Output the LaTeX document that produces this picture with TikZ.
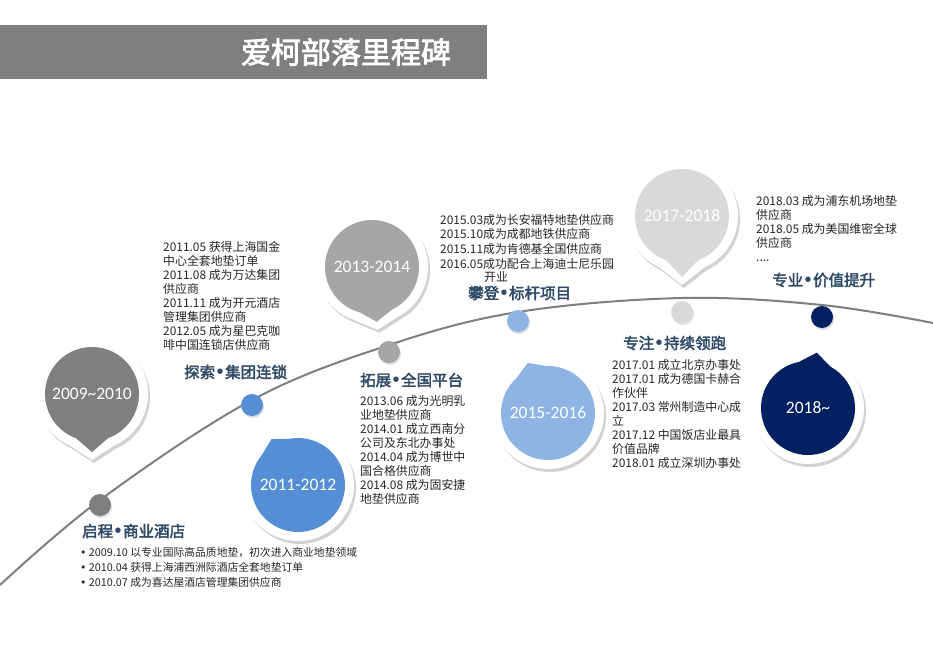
\documentclass[tikz,border=0pt]{standalone}
\usepackage{fontspec}
\setmainfont{Noto Sans CJK SC}
\newfontfamily\cjkb[AutoFakeBold=2.5]{Noto Sans CJK SC}
\newfontfamily\yearf{Carlito}
\newfontfamily\bulf{DejaVu Sans}
\usetikzlibrary{shadows,calc}
\definecolor{cA}{HTML}{7F7F7F}
\definecolor{cB}{HTML}{558ED5}
\definecolor{cC}{HTML}{A6A6A6}
\definecolor{cD}{HTML}{8EB4E3}
\definecolor{cE}{HTML}{D9D9D9}
\definecolor{cF}{HTML}{002060}
\definecolor{head}{HTML}{2E4A66}
\definecolor{body}{HTML}{262626}
\newcommand{\hb}{{\bulf\textbullet}}
\tikzset{
  heading/.style={font=\cjkb\bfseries\fontsize{15.5}{18}\selectfont,text=head,inner sep=0pt,anchor=west},
  bodytxt/.style={font=\fontsize{11.9}{14}\selectfont,text=body,inner sep=0pt,anchor=north west,align=left},
  dot/.style={circle,minimum size=22pt,inner sep=0pt,fill=#1,drop shadow={opacity=0.25,shadow xshift=1pt,shadow yshift=-2pt}},
}
\newcommand{\mybubble}[6]{%
  \coordinate (#6) at (#1);
  \fill[white,drop shadow={opacity=0.35,shadow xshift=2pt,shadow yshift=-3pt}] ($(#6)+(#3-24:56)$) -- ($(#6)+(#3:#4)$) -- ($(#6)+(#3+24:56)$) arc[start angle=#3+24,end angle=#3+336,radius=56] -- cycle;
  \fill[#2] ($(#6)+(#3-20:47)$) -- ($(#6)+(#3:#4-8)$) -- ($(#6)+(#3+20:47)$) arc[start angle=#3+20,end angle=#3+340,radius=47] -- cycle;
  \node[font=\yearf\fontsize{17.5}{20}\selectfont,text=white] at (#6) {#5};
}
\begin{document}
\begin{tikzpicture}[x=1pt,y=-1pt]
\useasboundingbox (0,0) rectangle (933,654);
\fill[white] (0,0) rectangle (933,654);
\fill[cA] (0,25) rectangle (487,79);
\node[font=\cjkb\bfseries\fontsize{30}{34}\selectfont,text=white] (title) at (346,52) {爱柯部落里程碑};
% curve
\draw[cA,line width=2pt] plot[smooth,tension=0.6] coordinates {(0,585) (100,500) (252,400) (389,345) (518,312) (682,298) (822,305) (933,323)};
% dots
\node[dot=cA] (d1) at (100,505) {};
\node[dot=cB] (d2) at (252,405) {};
\node[dot=cC] (d3) at (389,352) {};
\node[dot=cD] (d4) at (518,321) {};
\node[dot=cE] (d5) at (682,312) {};
\node[dot=cF] (d6) at (822,317) {};
% bubbles
\mybubble{92,394}{cA}{90}{66}{2009\textasciitilde 2010}{b1}
\mybubble{298,485}{cB}{-120}{61}{2011-2012}{b2}
\mybubble{372,267}{cC}{85}{63}{2013-2014}{b3}
\mybubble{548,413}{cD}{-112}{62}{2015-2016}{b4}
\mybubble{682,216}{cE}{90}{69}{2017-2018}{b5}
\mybubble{808,408}{cF}{-81}{64}{2018\textasciitilde}{b6}
% headings
\node[heading] (h1) at (82,531) {启程\hb 商业酒店};
\node[heading] (h2) at (184,372) {探索\hb 集团连锁};
\node[heading] (h3) at (360,380) {拓展\hb 全国平台};
\node[heading] (h4) at (468,293) {攀登\hb 标杆项目};
\node[heading] (h5) at (623,343) {专注\hb 持续领跑};
\node[heading] (h6) at (772,280) {专业\hb 价值提升};
% texts
\node[bodytxt,font=\fontsize{10.8}{15}\selectfont] (t1) at (80,547) {\hb\ 2009.10 以专业国际高品质地垫，初次进入商业地垫领域\\\hb\ 2010.04 获得上海浦西洲际酒店全套地垫订单\\\hb\ 2010.07 成为喜达屋酒店管理集团供应商};
\node[bodytxt] (t2) at (163,241) {2011.05 获得上海国金\\中心全套地垫订单\\2011.08 成为万达集团\\供应商\\2011.11 成为开元酒店\\管理集团供应商\\2012.05 成为星巴克咖\\啡中国连锁店供应商};
\node[bodytxt] (t3) at (360,395) {2013.06 成为光明乳\\业地垫供应商\\2014.01 成立西南分\\公司及东北办事处\\2014.04 成为博世中\\国合格供应商\\2014.08 成为固安捷\\地垫供应商};
\node[bodytxt,font=\fontsize{11.9}{14.7}\selectfont] (t4) at (440,214) {2015.03成为长安福特地垫供应商\\2015.10成为成都地铁供应商\\2015.11成为肯德基全国供应商\\2016.05成功配合上海迪士尼乐园};
\node[bodytxt] (t4b) at (484,271) {开业};
\node[bodytxt] (t5) at (612,359) {2017.01 成立北京办事处\\2017.01 成为德国卡赫合\\作伙伴\\2017.03 常州制造中心成\\立\\2017.12 中国饭店业最具\\价值品牌\\2018.01 成立深圳办事处};
\node[bodytxt] (t6) at (756,195) {2018.03 成为浦东机场地垫\\供应商\\2018.05 成为美国维密全球\\供应商\\....};
\end{tikzpicture}
\end{document}
